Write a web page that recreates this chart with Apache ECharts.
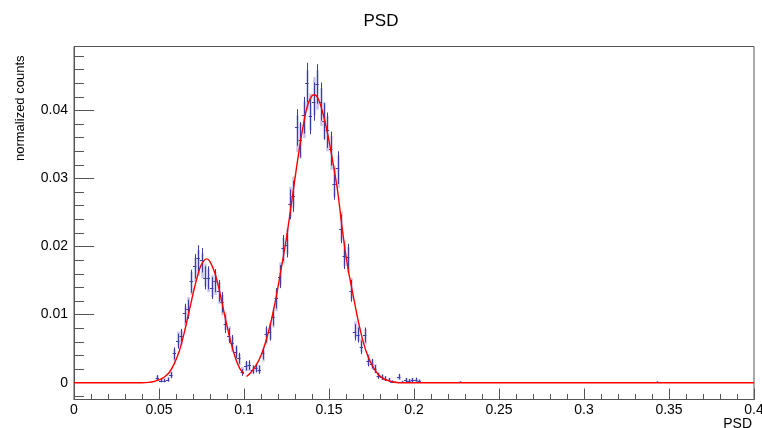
<!DOCTYPE html>
<html>
<head>
<meta charset="utf-8">
<script src="https://cdn.jsdelivr.net/npm/echarts@6/dist/echarts.min.js"></script>
<style>html,body{margin:0;padding:0;background:#fff;}#c{width:762px;height:428px;}</style>
</head>
<body>
<div id="c"></div>
<script>
// ---- data ----
const binWidth = 0.002;
const binCenters = [0.049,0.051,0.053,0.055,0.057,0.059,0.061,0.063,0.065,0.067,0.069,0.071,0.073,0.075,0.077,0.079,0.081,0.083,0.085,0.087,0.089,0.091,0.093,0.095,0.097,0.099,0.101,0.103,0.105,0.107,0.109,0.111,0.113,0.115,0.117,0.119,0.121,0.123,0.125,0.127,0.129,0.131,0.133,0.135,0.137,0.139,0.141,0.143,0.145,0.147,0.149,0.151,0.153,0.155,0.157,0.159,0.161,0.163,0.165,0.167,0.169,0.171,0.173,0.175,0.177,0.179,0.181,0.183,0.185,0.187,0.189,0.191,0.193,0.195,0.197,0.199,0.201,0.203,0.227,0.343];
const counts = [0.00074,0.0003,0.0003,0.00045,0.0011,0.0043,0.0061,0.0068,0.0102,0.0108,0.0149,0.0171,0.0183,0.0180,0.0154,0.0154,0.0139,0.0150,0.0135,0.0118,0.0086,0.0069,0.0059,0.0045,0.0036,0.0015,0.0025,0.0026,0.0019,0.0021,0.0019,0.0043,0.0071,0.0074,0.0097,0.0124,0.0156,0.0198,0.0203,0.0262,0.0274,0.0375,0.0357,0.0393,0.0441,0.0392,0.0413,0.0439,0.0413,0.0384,0.0371,0.0344,0.0292,0.0316,0.0226,0.0186,0.0185,0.0135,0.0074,0.0070,0.0052,0.0070,0.0032,0.0028,0.0020,0.0010,0.0008,0.0006,0.0004,0.00015,0.00005,0.0009,0.00012,0.0004,0.0003,0.0004,0.00045,0.00025,0.0001,0.0001];
const errors = [0.00037,0.00024,0.00024,0.0003,0.00045,0.0009,0.0011,0.0011,0.0014,0.0014,0.0017,0.0018,0.0019,0.0018,0.0017,0.0017,0.0016,0.0017,0.0016,0.0015,0.0013,0.0011,0.0011,0.0009,0.0008,0.0005,0.0007,0.0007,0.0006,0.0006,0.0006,0.0009,0.0012,0.0012,0.0013,0.0015,0.0017,0.0019,0.0019,0.0022,0.0023,0.0027,0.0026,0.0027,0.0029,0.0027,0.0028,0.0029,0.0028,0.0027,0.0026,0.0025,0.0023,0.0024,0.0021,0.0019,0.0019,0.0016,0.0012,0.0011,0.0010,0.0011,0.0008,0.0007,0.0006,0.00045,0.0004,0.00035,0.0003,0.00017,0.0001,0.0004,0.00015,0.0003,0.00024,0.0003,0.0003,0.0002,0.0001,0.0001];
// second (lighter) histogram, same binning
const countsLight = [0.0007,0.0003,0.0004,0.0005,0.0012,0.0040,0.0064,0.0066,0.0098,0.0112,0.0146,0.0166,0.0176,0.0172,0.0158,0.0150,0.0142,0.0146,0.0132,0.0114,0.0090,0.0072,0.0056,0.0046,0.0034,0.0018,0.0024,0.0024,0.0020,0.0022,0.0020,0.0040,0.0068,0.0076,0.0094,0.0120,0.0160,0.0194,0.0208,0.0266,0.0280,0.0366,0.0355,0.0386,0.0430,0.0398,0.0421,0.0430,0.0405,0.0385,0.0366,0.0338,0.0296,0.0310,0.0230,0.0190,0.0180,0.0138,0.0078,0.0072,0.0055,0.0068,0.0034,0.0027,0.0021,0.0011,0.0008,0.0006,0.0004,0.0002,0.0001,0.0008,0.0001,0.0004,0.0003,0.0004,0.0004,0.0003,0.0001,0.0001];
const errorsLight = errors;
// fitted curves
const fit1X = [0,0.040,0.044,0.047,0.050,0.053,0.056,0.059,0.062,0.065,0.068,0.071,0.074,0.076,0.078,0.080,0.083,0.086,0.089,0.092,0.095,0.0975,0.0998];
const fit1Y = [0,0,0.00005,0.00017,0.0004,0.0008,0.0015,0.0028,0.0047,0.0075,0.0108,0.0141,0.0168,0.0178,0.0182,0.0178,0.0160,0.0130,0.0095,0.0062,0.0036,0.0021,0.0013];
const fit2X = [0.1015,0.104,0.107,0.110,0.113,0.116,0.119,0.122,0.125,0.128,0.131,0.134,0.137,0.1395,0.1414,0.1435,0.146,0.149,0.152,0.155,0.158,0.161,0.164,0.167,0.170,0.173,0.176,0.179,0.182,0.185,0.188,0.191,0.4];
const fit2Y = [0.0009,0.0015,0.0025,0.0040,0.0062,0.0091,0.0127,0.0169,0.0213,0.0265,0.0318,0.0366,0.0404,0.0420,0.0423,0.0418,0.0400,0.0368,0.0328,0.0283,0.0222,0.0170,0.0131,0.0093,0.0061,0.0038,0.0023,0.0012,0.0006,0.0003,0.0001,0,0];
const xTickStep = 0.05;
const yMajorTicks = [0,0.01,0.02,0.03,0.04];
const yMinorTicks = [-0.002,0.002,0.004,0.006,0.008,0.012,0.014,0.016,0.018,0.022,0.024,0.026,0.028,0.032,0.034,0.036,0.038,0.042,0.044,0.046,0.048];
const yMin = -0.00247, yMax = 0.0494;

// ---- chart ----
const FONT = 'Liberation Sans, Arial, Helvetica, sans-serif';
const AXC = '#555';
function errItem(color, width, withCross) {
  return function (params, api) {
    const x = api.value(0), y = api.value(1), e = api.value(2);
    const c = api.coord([x, y]);
    const t = api.coord([x, y + e]);
    const b = api.coord([x, Math.max(y - e, yMin)]);
    const l = api.coord([x - binWidth / 2, y]);
    const r = api.coord([x + binWidth / 2, y]);
    const cx = Math.round(c[0]) + 0.5, cy = Math.round(c[1]) + 0.5;
    const ch = [{type: 'line', shape: {x1: cx, y1: t[1], x2: cx, y2: b[1]}, style: {stroke: color, lineWidth: width}}];
    if (withCross) ch.push({type: 'line', shape: {x1: l[0], y1: cy, x2: r[0], y2: cy}, style: {stroke: color, lineWidth: 1}});
    return {type: 'group', children: ch};
  };
}
const darkData = binCenters.map((x, i) => [x, counts[i], errors[i]]);
const lightData = binCenters.map((x, i) => [x, countsLight[i], errorsLight[i]]);

const chart = echarts.init(document.getElementById('c'), null, {renderer: 'canvas'});
chart.setOption({
  animation: false,
  backgroundColor: '#fff',
  title: {text: 'PSD', left: 'center', top: 8, textStyle: {fontFamily: FONT, fontSize: 17, fontWeight: 'normal', color: '#000'}},
  grid: {left: 74, right: 8, top: 46.5, bottom: 28.5, show: true, borderColor: AXC, borderWidth: 1, backgroundColor: 'transparent', containLabel: false, outerBoundsMode: 'none'},
  xAxis: {
    type: 'value', min: 0, max: 0.4, interval: xTickStep,
    name: 'PSD', nameLocation: 'end', nameGap: 0,
    nameTextStyle: {fontFamily: FONT, fontSize: 14, color: '#000', align: 'right', verticalAlign: 'top', padding: [18, 2, 0, 0]},
    axisLine: {show: true, onZero: false, lineStyle: {color: AXC}},
    axisTick: {show: true, inside: true, length: 11, lineStyle: {color: AXC}},
    minorTick: {show: true, splitNumber: 5, length: 5.5, lineStyle: {color: AXC}},
    axisLabel: {fontFamily: FONT, fontSize: 14, color: '#000', margin: 4, showMaxLabel: true, showMinLabel: true, hideOverlap: false},
    splitLine: {show: false}, minorSplitLine: {show: false}
  },
  yAxis: [{
    type: 'value', min: yMin, max: yMax,
    name: 'normalized counts', nameLocation: 'end', nameRotate: 90, nameGap: 0,
    nameTextStyle: {fontFamily: FONT, fontSize: 13, color: '#000', align: 'right', verticalAlign: 'bottom', padding: [0, 9, 47, 0]},
    axisLine: {show: true, onZero: false, lineStyle: {color: AXC}},
    axisTick: {show: true, inside: true, length: 20, customValues: yMajorTicks, lineStyle: {color: AXC}},
    axisLabel: {fontFamily: FONT, fontSize: 14, color: '#000', margin: 6, customValues: yMajorTicks},
    splitLine: {show: false}
  }, {
    type: 'value', min: yMin, max: yMax, position: 'left',
    axisLine: {show: false},
    axisTick: {show: true, inside: true, length: 10, customValues: yMinorTicks, lineStyle: {color: AXC}},
    axisLabel: {show: false},
    splitLine: {show: false}
  }],
  series: [
    {type: 'custom', name: 'light', renderItem: errItem('rgba(150,150,220,0.55)', 2.5, false), data: lightData, z: 2, clip: true},
    {type: 'custom', name: 'counts', renderItem: errItem('#3c3ca8', 1, true), data: darkData, z: 3, clip: true},
    {type: 'line', name: 'fit1', data: fit1X.map((x, i) => [x, fit1Y[i]]), showSymbol: false, smooth: 0.3, lineStyle: {color: '#ff0000', width: 1.4}, z: 4},
    {type: 'line', name: 'fit2', data: fit2X.map((x, i) => [x, fit2Y[i]]), showSymbol: false, smooth: 0.3, lineStyle: {color: '#ff0000', width: 1.4}, z: 4}
  ]
});
</script>
</body>
</html>
